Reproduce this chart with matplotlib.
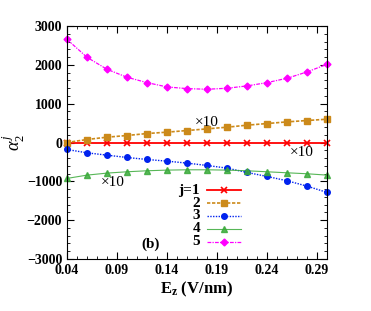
"""alpha_2^j versus E_z for the five levels, gnuplot-like styling."""

import matplotlib.pyplot as plt
from matplotlib.lines import Line2D
from matplotlib.ticker import MultipleLocator

ez = [0.04, 0.06, 0.08, 0.10, 0.12, 0.14, 0.16, 0.18, 0.20, 0.22, 0.24, 0.26, 0.28, 0.30]
alpha_j1 = [0, 0, 0, 0, 0, 0, 0, 0, 0, 0, 0, 0, 0, 0]
alpha_j2 = [0, 77, 137, 180, 231, 266, 308, 351, 394, 446, 488, 531, 566, 600]
alpha_j3 = [-180, -266, -326, -386, -437, -480, -531, -591, -660, -771, -874, -985, -1123, -1285]
alpha_j4 = [-925, -840, -788, -754, -728, -711, -703, -703, -711, -728, -754, -780, -805, -840]
alpha_j5 = [2656, 2194, 1885, 1680, 1542, 1431, 1388, 1371, 1397, 1457, 1542, 1654, 1817, 2014]
labels = ["j=1", "2", "3", "4", "5"]
x_ticks = [0.04, 0.09, 0.14, 0.19, 0.24, 0.29]

plt.rcParams["font.family"] = ["Liberation Serif", "DejaVu Serif"]
plt.rcParams["mathtext.fontset"] = "custom"
plt.rcParams["mathtext.rm"] = "Liberation Serif"
plt.rcParams["mathtext.it"] = "Liberation Serif:italic"
plt.rcParams["mathtext.bf"] = "Liberation Serif:bold"

fig = plt.figure(figsize=(3.71, 3.11), dpi=100)
ax = fig.add_axes([67 / 371, 1 - 259 / 311, 260 / 371, 233 / 311])

styles = [
    dict(color="#ff0000", ls="-", marker="x", ms=4, lw=1.3, mew=1.2),
    dict(color="#cc8a1a", ls=(0, (2, 1)), marker="s", ms=4, lw=1.2),
    dict(color="#0022ee", ls=(0, (1, 1)), marker="o", ms=4, lw=1.0),
    dict(color="#3aaa3a", ls="-", marker="^", ms=4.5, lw=0.8, alpha=0.85),
    dict(color="#ff00ff", ls=(0, (3, 1, 1, 1)), marker="D", ms=3.5, lw=0.9),
]
series = [alpha_j1, alpha_j2, alpha_j3, alpha_j4, alpha_j5]
for ys, st in zip(series, styles):
    ax.plot(ez, ys, clip_on=False, **st)

# hand-made key: label right-aligned, sample line to the right (gnuplot style)
row_y = [0.296, 0.240, 0.185, 0.129, 0.073]
for lab, st, yy in zip(labels, styles, row_y):
    ax.text(0.512, yy, lab, transform=ax.transAxes, ha="right", va="center",
            fontsize=11, fontweight="bold")
    sample = {k: v for k, v in st.items() if k != "marker"}
    ax.add_line(Line2D([0.538, 0.669], [yy, yy], transform=ax.transAxes, **sample))
    ax.add_line(Line2D([0.604], [yy], transform=ax.transAxes, marker=st["marker"],
                       ls="none", color=st["color"], ms=st["ms"],
                       mew=st.get("mew", 1.0), alpha=st.get("alpha", 1.0)))

ax.set_xlim(0.04, 0.30)
ax.set_ylim(-3000, 3000)
ax.set_xticks(x_ticks)
ax.set_xticklabels([f"{t:.2f}" for t in x_ticks])
ax.yaxis.set_major_locator(MultipleLocator(1000))
ax.xaxis.set_minor_locator(MultipleLocator(0.01))
ax.yaxis.set_minor_locator(MultipleLocator(200))
ax.tick_params(which="both", direction="in", top=True, right=True, labelsize=10)
ax.tick_params(which="major", length=5)
ax.tick_params(which="minor", length=2.5)
for lab in ax.get_xticklabels() + ax.get_yticklabels():
    lab.set_fontweight("bold")

ax.set_xlabel(r"E$_\mathbf{z}$ (V/nm)", fontsize=12, fontweight="bold", labelpad=2)
ax.set_ylabel(r"$\alpha_2^{\,j}$", fontsize=13)
ax.yaxis.set_label_coords(-0.155, 0.5)

ax.text(0.18, 520, "×10", fontsize=11, ha="center", va="center")
ax.text(0.275, -270, "×10", fontsize=11, ha="center", va="center")
ax.text(0.086, -1030, "×10", fontsize=11, ha="center", va="center")
ax.text(0.124, -2630, "(b)", fontsize=11, fontweight="bold", ha="center", va="center")

fig.savefig("out.png", dpi=100)
